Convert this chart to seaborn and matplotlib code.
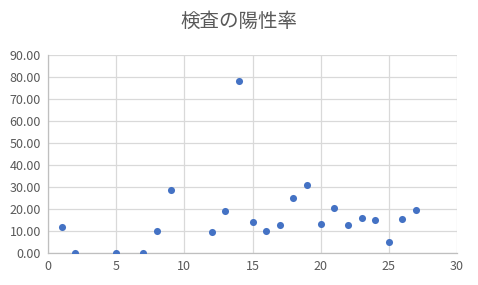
import matplotlib
matplotlib.use("Agg")
import matplotlib.pyplot as plt
import seaborn as sns
import pandas as pd
from matplotlib.ticker import FormatStrFormatter, MultipleLocator

x_vals = [1, 2, 5, 7, 8, 9, 12, 13, 14, 15, 16, 17, 18, 19, 20, 21, 22, 23, 24, 25, 26, 27]
y_vals = [11.8, 0.0, 0.0, 0.0, 10.1, 28.6, 9.6, 19.0, 78.2, 14.0, 10.1, 12.7, 25.0, 30.9, 13.2, 20.4, 12.7, 15.9, 15.1, 5.0, 15.5, 19.5]
title = "検査の陽性率"

df = pd.DataFrame({"x": x_vals, "y": y_vals})

sns.set_theme(style="white")
plt.rcParams['font.family'] = ['Noto Sans CJK JP', 'DejaVu Sans']

fig = plt.figure(figsize=(4.78, 2.85), dpi=100)
ax = fig.add_axes([48/478, 1-253/285, (457-48)/478, (253-55)/285])

sns.scatterplot(data=df, x="x", y="y", ax=ax, color="#4472C4", s=26,
                edgecolor="#4472C4", linewidth=0, zorder=3)

ax.set_xlim(0, 30)
ax.set_ylim(0, 90)
ax.xaxis.set_major_locator(MultipleLocator(5))
ax.yaxis.set_major_locator(MultipleLocator(10))
ax.yaxis.set_major_formatter(FormatStrFormatter("%.2f"))
ax.grid(True, color="#D9D9D9", linewidth=0.9)
ax.set_axisbelow(True)
for side in ["top", "right"]:
    ax.spines[side].set_visible(False)
for side in ["left", "bottom"]:
    ax.spines[side].set_color("#BFBFBF")
    ax.spines[side].set_linewidth(0.9)
ax.tick_params(axis="both", length=0, labelsize=9, colors="#595959", pad=5)
ax.set_xlabel("")
ax.set_ylabel("")
fig.text(0.5, 1-21/285, title, ha="center", va="center", fontsize=14, color="#595959")

fig.savefig("out.png", dpi=100)
